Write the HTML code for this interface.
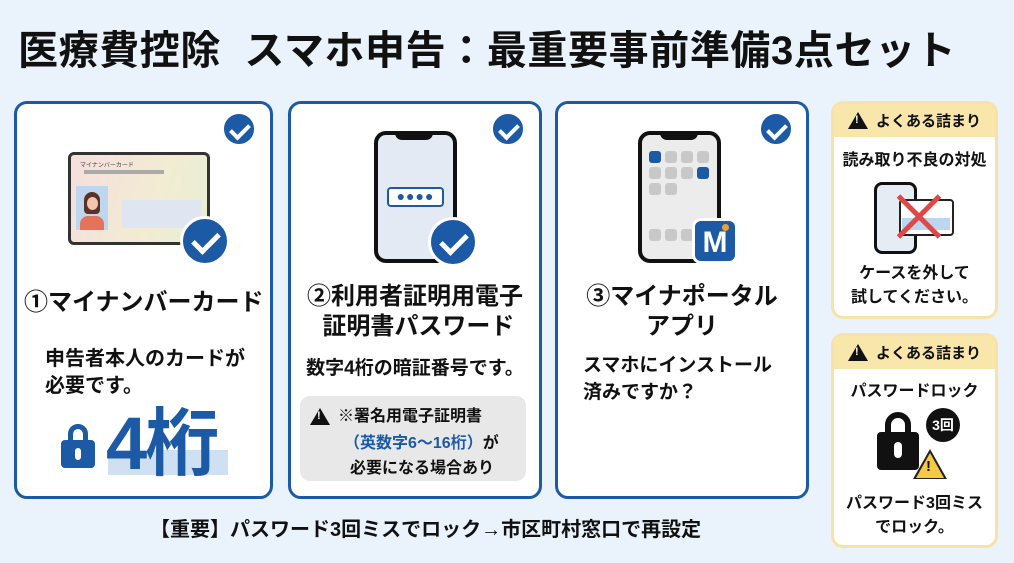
<!DOCTYPE html>
<html><head><meta charset="utf-8"><style>
*{margin:0;padding:0;box-sizing:border-box}
body{width:1014px;height:563px;background:#eaf3fb;font-family:"Liberation Sans","Noto Sans CJK JP",sans-serif;position:relative;overflow:hidden;color:#111}
.a{position:absolute}
.t{font-weight:bold;white-space:nowrap}
.card{position:absolute;top:101px;height:398px;background:#fff;border:3px solid #1d5aa6;border-radius:13px}
.chk{position:absolute;width:36px;height:36px;border-radius:50%;background:#1d5aa6;border:3px solid #fff}
.chk:after{content:"";position:absolute;left:10px;top:6px;width:8px;height:15px;border:solid #fff;border-width:0 4px 4px 0;transform:rotate(45deg)}
.big{width:50px;height:50px}
.big:after{left:15px;top:8px;width:11px;height:21px;border-width:0 5px 5px 0}
.side{position:absolute;left:831px;width:167px;background:#fff;border:3px solid #f7e3a8;border-radius:12px;overflow:hidden}
.sh{height:33px;background:#f9e6ab;font-weight:bold;font-size:15px;display:flex;align-items:center;padding-left:14px}
.tri{display:inline-block;width:0;height:0;border-left:10px solid transparent;border-right:10px solid transparent;border-bottom:17px solid #111;position:relative;margin-right:8px}
.tri:after{content:"!";position:absolute;left:-3px;top:2px;color:#fff;font-size:11px;font-weight:bold}
.c{text-align:center}
</style></head><body>
<div class="a t" style="left:18px;top:18px;font-size:40px;letter-spacing:0.6px">医療費控除&nbsp; スマホ申告：最重要事前準備3点セット</div>

<!-- card1 -->
<div class="card" style="left:14px;width:259px"></div>
<div class="chk" style="left:221px;top:111px"></div>
<div class="a" style="left:68px;top:152px;width:142px;height:93px;border:3px solid #333;border-radius:6px;background:linear-gradient(110deg,#f6dede,#f2ecd2 60%,#e6efd6)"></div>
<div class="a" style="left:80px;top:160px;font-size:6px;color:#444">マイナンバーカード</div>
<div class="a" style="left:84px;top:170px;width:80px;height:4px;background:#aaa"></div>
<div class="a" style="left:76px;top:186px;width:32px;height:44px;background:#bcd7ee"></div>
<div class="a" style="left:84px;top:192px;width:16px;height:22px;border-radius:8px 8px 4px 4px;background:#5a3326"></div>
<div class="a" style="left:87px;top:197px;width:11px;height:13px;border-radius:50%;background:#f4c5ad"></div>
<div class="a" style="left:80px;top:216px;width:24px;height:14px;border-radius:8px 8px 0 0;background:#e5735b"></div>
<div class="a" style="left:122px;top:200px;width:80px;height:28px;background:#dfe6f1"></div>
<div class="chk big" style="left:180px;top:216px;width:50px;height:50px"></div>
<div class="a t" style="left:24px;top:282px;font-size:24px">①マイナンバーカード</div>
<div class="a t" style="left:45px;top:346px;font-size:20px;line-height:27px">申告者本人のカードが<br>必要です。</div>
<div class="a" style="left:108px;top:450px;width:120px;height:25px;background:#cfe0f3"></div>
<div class="a" style="left:61px;top:424px;width:34px;height:44px">
<div class="a" style="left:7px;top:0;width:20px;height:24px;border:5px solid #1d5aa6;border-radius:10px 10px 0 0"></div>
<div class="a" style="left:0;top:16px;width:34px;height:28px;background:#1d5aa6;border-radius:4px"></div>
<div class="a" style="left:14px;top:24px;width:6px;height:12px;background:#fff;border-radius:3px"></div></div>
<div class="a t" style="left:106px;top:384px;font-size:74px;color:#1d5aa6;letter-spacing:-2px">4桁</div>

<!-- card2 -->
<div class="card" style="left:288px;width:254px"></div>
<div class="chk" style="left:490px;top:111px"></div>
<div class="a" style="left:374px;top:131px;width:83px;height:132px;border:4px solid #111;border-radius:12px;background:#e3eaf4"></div>
<div class="a" style="left:395px;top:131px;width:38px;height:9px;background:#111;border-radius:0 0 7px 7px"></div>
<div class="a" style="left:387px;top:187px;width:57px;height:20px;border:2px solid #1d5aa6;border-radius:4px;background:#fff;font-size:14px;color:#1d5aa6;text-align:center;line-height:15px;letter-spacing:1px">●●●●</div>
<div class="chk big" style="left:428px;top:217px"></div>
<div class="a t c" style="left:290px;top:282px;width:250px;font-size:24px;line-height:30px">②利用者証明用電子<br>&nbsp;証明書パスワード</div>
<div class="a t c" style="left:290px;top:353px;width:250px;font-size:19px">数字4桁の暗証番号です。</div>
<div class="a" style="left:300px;top:396px;width:226px;height:85px;background:#e8e8e8;border-radius:10px"></div>
<div class="tri a" style="left:310px;top:408px"></div>
<div class="a t" style="left:338px;top:404px;font-size:16px;line-height:25px">※署名用電子証明書</div>
<div class="a t" style="left:344px;top:429px;font-size:16px"><span style="color:#1d5aa6">（英数字6～16桁）</span>が</div>
<div class="a t" style="left:350px;top:454px;font-size:16px">必要になる場合あり</div>

<!-- card3 -->
<div class="card" style="left:555px;width:254px"></div>
<div class="chk" style="left:758px;top:111px"></div>
<div class="a" style="left:638px;top:131px;width:83px;height:132px;border:4px solid #111;border-radius:12px;background:#ececec"></div>
<div class="a" style="left:660px;top:131px;width:38px;height:9px;background:#111;border-radius:0 0 7px 7px"></div>
<div class="a" style="left:649px;top:151px;width:12px;height:12px;background:#1d5aa6;border-radius:3px;box-shadow:16px 0 #c8c8c8,32px 0 #c8c8c8,48px 0 #c8c8c8,0 16px #c8c8c8,16px 16px #c8c8c8,32px 16px #c8c8c8,0 32px #c8c8c8,16px 32px #c8c8c8,0 78px #c8c8c8,16px 78px #c8c8c8,32px 78px #c8c8c8"></div>
<div class="a" style="left:697px;top:167px;width:12px;height:12px;background:#1d5aa6;border-radius:3px"></div>
<div class="a t" style="left:692px;top:218px;width:46px;height:46px;background:#1d5aa6;border:3px solid #fff;border-radius:9px;color:#fff;font-size:30px;text-align:center;line-height:44px">M</div>
<div class="a" style="left:722px;top:224px;width:7px;height:7px;background:#f0a030;border-radius:50%"></div>
<div class="a t c" style="left:557px;top:282px;width:250px;font-size:24px;line-height:30px">③マイナポータル<br>アプリ</div>
<div class="a t" style="left:583px;top:352px;font-size:19px;line-height:27px">スマホにインストール<br>済みですか？</div>

<div class="a t" style="left:150px;top:513px;font-size:20px">【重要】パスワード3回ミスでロック→市区町村窓口で再設定</div>

<!-- side1 -->
<div class="side" style="top:101px;height:218px"><div class="sh"><span class="tri"></span>よくある詰まり</div></div>
<div class="a t c" style="left:831px;top:146px;width:167px;font-size:16px">読み取り不良の対処</div>
<div class="a" style="left:874px;top:182px;width:43px;height:72px;border:3px solid #111;border-radius:8px;background:#e6ecf3"></div>
<div class="a" style="left:899px;top:199px;width:55px;height:37px;border:2px solid #222;border-radius:4px;background:#fff"></div>
<div class="a" style="left:902px;top:218px;width:48px;height:12px;background:#bdd5ee"></div>
<div class="a" style="left:890px;top:214px;width:58px;height:5px;background:#e04848;transform:rotate(45deg)"></div>
<div class="a" style="left:890px;top:214px;width:58px;height:5px;background:#e04848;transform:rotate(-45deg)"></div>
<div class="a t c" style="left:831px;top:262px;width:167px;font-size:16px;line-height:24px">ケースを外して<br>試してください。</div>

<!-- side2 -->
<div class="side" style="top:333px;height:215px"><div class="sh"><span class="tri"></span>よくある詰まり</div></div>
<div class="a t c" style="left:831px;top:377px;width:167px;font-size:16px">パスワードロック</div>
<div class="a" style="left:885px;top:412px;width:26px;height:30px;border:6px solid #111;border-radius:13px 13px 0 0"></div>
<div class="a" style="left:877px;top:432px;width:42px;height:38px;background:#111;border-radius:4px"></div>
<div class="a" style="left:894px;top:442px;width:8px;height:16px;background:#fff;border-radius:4px"></div>
<div class="a t" style="left:926px;top:408px;width:34px;height:34px;border-radius:50%;background:#111;color:#fff;font-size:14px;text-align:center;line-height:34px">3回</div>
<div class="a" style="left:913px;top:449px;width:0;height:0;border-left:17px solid transparent;border-right:17px solid transparent;border-bottom:30px solid #222"></div>
<div class="a" style="left:916px;top:453px;width:0;height:0;border-left:14px solid transparent;border-right:14px solid transparent;border-bottom:25px solid #f6c945"></div>
<div class="a t" style="left:926px;top:458px;font-size:15px">!</div>
<div class="a t c" style="left:831px;top:492px;width:167px;font-size:16px;line-height:24px">パスワード3回ミス<br>でロック。</div>
</body></html>
